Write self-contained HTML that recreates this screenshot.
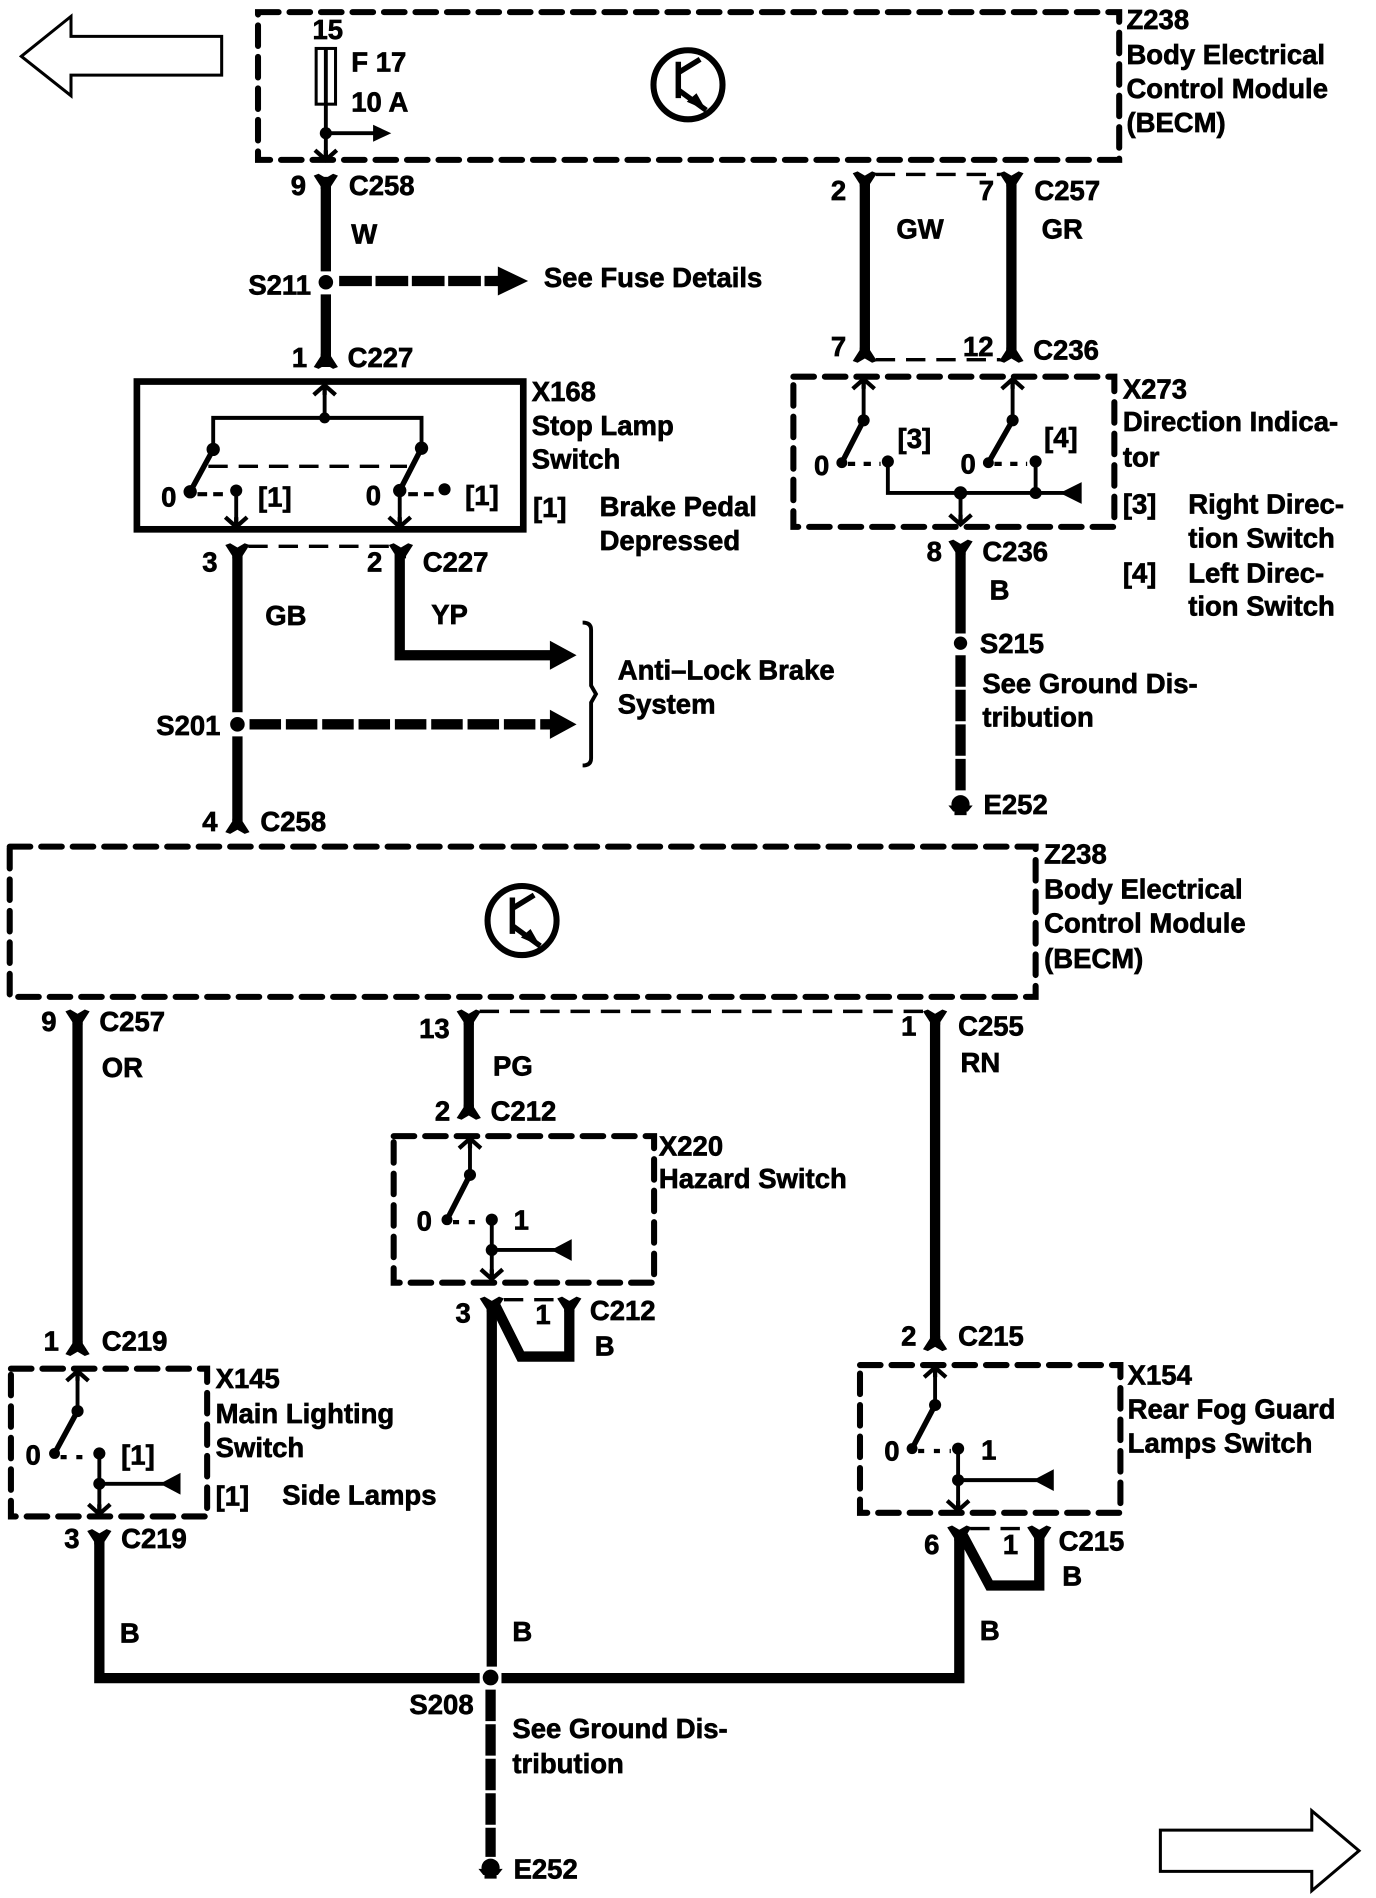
<!DOCTYPE html>
<html><head><meta charset="utf-8"><style>
html,body{margin:0;padding:0;background:#fff}
svg{display:block}
text{font-family:"Liberation Sans",sans-serif;font-weight:bold;font-size:22.7px;fill:#000;stroke:#000;stroke-width:.55}
.th{fill:none;stroke:#000;stroke-width:3.2}
.w{fill:none;stroke:#000;stroke-width:8.5}
.d{fill:none;stroke:#000;stroke-width:5;stroke-dasharray:17 9;stroke-linecap:round}
.t{fill:none;stroke:#000;stroke-width:2.8;stroke-dasharray:16 9}
</style></head><body>
<svg width="1376" height="1898" viewBox="0 0 1136 1567" xmlns="http://www.w3.org/2000/svg">
<defs>
<path id="ft" d="M-10,1L-6,-.5L0,3L6,-.5L10,1L4.2,10L4.2,12H-4.2V10Z"/>
<path id="fb" d="M-10,-1L-6,.5L0,-3L6,.5L10,-1L4.2,-10L4.2,-12H-4.2V-10Z"/>
<path id="au" d="M-9,8L0,0L9,8M0,0V8" fill="none" stroke="#000" stroke-width="3.5"/>
<path id="ad" d="M-9,-8L0,0L9,-8M0,0V-8" fill="none" stroke="#000" stroke-width="3.5"/>
<g id="tr"><circle r="28.5" fill="none" stroke="#000" stroke-width="5"/><path d="M-8,-19V11M-8,-10L10,-21M-7,5L15,21" fill="none" stroke="#000" stroke-width="4.5"/><path d="M15,21L-1,14L7,7Z"/></g>
<g id="eg"><circle cy="-1" r="7.5"/><path d="M-10,0H10L6,5H-6Z"/><rect x="-5" y="4" width="10" height="4"/></g>
</defs>

<!-- corner arrows -->
<path d="M17.6,46.5L58.6,13.5V30H183V62H58.6V79Z" fill="#fff" stroke="#000" stroke-width="2.5"/>
<path d="M1122,1528L1083,1495V1511H958V1545H1083V1561Z" fill="#fff" stroke="#000" stroke-width="2.5"/>

<!-- top module -->
<rect x="213" y="10" width="711" height="122" class="d"/>
<rect x="261" y="40" width="16" height="46" fill="#fff" stroke="#000" stroke-width="2.5"/>
<path d="M269,40V132M269,110H310" class="th"/>
<circle cx="269" cy="110" r="5"/><path d="M308,103L323,110L308,117Z"/>
<use href="#ad" x="269" y="132"/>
<use href="#tr" x="568" y="70"/>
<text x="258" y="32">15</text><text x="290" y="59">F 17</text><text x="290" y="92">10 A</text>
<text x="930" y="24">Z238</text><text x="930" y="53">Body Electrical</text><text x="930" y="81">Control Module</text><text x="930" y="109">(BECM)</text>

<!-- W wire -->
<path d="M269,146V224M269,243V303" class="w"/>
<use href="#ft" x="269" y="144"/><use href="#fb" x="269" y="304"/>
<circle cx="269" cy="233" r="6"/>
<path d="M280,232H412" fill="none" stroke="#000" stroke-width="8.5" stroke-dasharray="27 3"/>
<path d="M411,220L436,232L411,244Z"/>
<text x="240" y="161">9</text><text x="288" y="161">C258</text><text x="290" y="201">W</text>
<text x="205" y="243">S211</text><text x="449" y="237">See Fuse Details</text>
<text x="241" y="303">1</text><text x="287" y="303">C227</text>

<!-- X168 -->
<rect x="113" y="315" width="319" height="122" fill="none" stroke="#000" stroke-width="5.5"/>
<path d="M268,345V318M176,371V345H348V371" class="th"/>
<use href="#au" x="268" y="318"/>
<circle cx="268" cy="345" r="4.5"/><circle cx="176" cy="371" r="5.5"/><circle cx="348" cy="370" r="5.5"/>
<path d="M176,371L157,406M348,370L330,405" fill="none" stroke="#000" stroke-width="4.5"/>
<path d="M172,385H336" class="t"/>
<circle cx="157" cy="406" r="5.5"/><circle cx="195" cy="405" r="5"/><circle cx="330" cy="405" r="5.5"/><circle cx="367" cy="404" r="5"/>
<path d="M163,408H184M337,408H358" fill="none" stroke="#000" stroke-width="3.5" stroke-dasharray="8 5"/>
<path d="M195,405V435M330,405V435" class="th"/>
<use href="#ad" x="195" y="435"/><use href="#ad" x="330" y="435"/>
<text x="133" y="418">0</text><text x="213" y="418">[1]</text><text x="302" y="417">0</text><text x="384" y="417">[1]</text>
<text x="439" y="331">X168</text><text x="439" y="359">Stop Lamp</text><text x="439" y="387">Switch</text>
<text x="440" y="427">[1]</text><text x="495" y="426">Brake Pedal</text><text x="495" y="454">Depressed</text>

<!-- GB / YP -->
<use href="#ft" x="196" y="449"/><use href="#ft" x="331" y="449"/>
<path d="M205,451H323" class="t"/>
<path d="M196,452V588M196,608V678" class="w"/>
<path d="M330,452V541H458" class="w"/>
<path d="M454,529L476,541L454,553Z"/>
<circle cx="196" cy="598" r="6"/>
<path d="M206,598H455" fill="none" stroke="#000" stroke-width="8.5" stroke-dasharray="26 4"/>
<path d="M454,586L476,598L454,610Z"/>
<use href="#fb" x="196" y="688"/>
<path d="M481,514Q488,514 488,520V566L492,573L488,580V626Q488,632 481,632" class="th"/>
<text x="167" y="472">3</text><text x="303" y="472">2</text><text x="349" y="472">C227</text>
<text x="219" y="516">GB</text><text x="356" y="515">YP</text>
<text x="129" y="607">S201</text><text x="510" y="561">Anti–Lock Brake</text><text x="510" y="589">System</text>
<text x="167" y="686">4</text><text x="215" y="686">C258</text>

<!-- GW / GR -->
<use href="#ft" x="714" y="142"/><use href="#ft" x="835" y="142"/>
<use href="#fb" x="714" y="299"/><use href="#fb" x="835" y="299"/>
<path d="M714,145V296M835,145V296" class="w"/>
<path d="M723,144H826M723,297H826" class="t"/>
<text x="686" y="165">2</text><text x="808" y="165">7</text><text x="854" y="165">C257</text>
<text x="740" y="197">GW</text><text x="860" y="197">GR</text>
<text x="686" y="294">7</text><text x="795" y="294">12</text><text x="853" y="297">C236</text>

<!-- X273 -->
<rect x="655" y="311" width="265" height="124" class="d"/>
<path d="M713,313V347M836,313V347M733,381V407H880M793,407V433M855,381V407" class="th"/>
<use href="#au" x="713" y="313"/><use href="#au" x="836" y="313"/><use href="#ad" x="793" y="433"/>
<circle cx="713" cy="347" r="5"/><circle cx="836" cy="347" r="5"/>
<path d="M713,347L695,382M836,347L816,382" fill="none" stroke="#000" stroke-width="4.5"/>
<circle cx="695" cy="382" r="4.5"/><circle cx="816" cy="382" r="4.5"/><circle cx="733" cy="381" r="5"/><circle cx="855" cy="381" r="5"/>
<circle cx="793" cy="407" r="5.5"/><circle cx="855" cy="407" r="5"/>
<path d="M700,383H727M821,383H848" fill="none" stroke="#000" stroke-width="3.5" stroke-dasharray="6 7"/>
<path d="M875,407L893,398V416Z"/>
<text x="672" y="392">0</text><text x="793" y="391">0</text><text x="741" y="370">[3]</text><text x="862" y="369">[4]</text>
<text x="927" y="329">X273</text><text x="927" y="356">Direction Indica-</text><text x="927" y="385">tor</text>
<text x="927" y="424">[3]</text><text x="981" y="424">Right Direc-</text><text x="981" y="452">tion Switch</text>
<text x="927" y="481">[4]</text><text x="981" y="481">Left Direc-</text><text x="981" y="508">tion Switch</text>

<!-- B wire to E252 -->
<use href="#ft" x="793" y="446"/>
<path d="M793,449V523" class="w"/>
<circle cx="793" cy="531" r="5.5"/>
<path d="M793,541V655" fill="none" stroke="#000" stroke-width="8.5" stroke-dasharray="26 2.5"/>
<use href="#eg" x="793" y="665"/>
<text x="765" y="463">8</text><text x="811" y="463">C236</text><text x="817" y="495">B</text>
<text x="809" y="539">S215</text><text x="811" y="572">See Ground Dis-</text><text x="811" y="600">tribution</text>
<text x="812" y="672">E252</text>

<!-- Z238 lower -->
<rect x="8" y="699" width="847" height="124" class="d"/>
<use href="#tr" x="431" y="760"/>
<text x="862" y="713">Z238</text><text x="862" y="742">Body Electrical</text><text x="862" y="770">Control Module</text><text x="862" y="799">(BECM)</text>

<!-- lower wires -->
<use href="#ft" x="64" y="834"/><use href="#ft" x="387" y="834"/><use href="#ft" x="772" y="834"/>
<path d="M396,835H764" class="t"/>
<path d="M64,838V1112M387,838V915M772,838V1108" class="w"/>
<use href="#fb" x="64" y="1119"/><use href="#fb" x="387" y="924"/><use href="#fb" x="772" y="1115"/>
<text x="34" y="851">9</text><text x="82" y="851">C257</text><text x="84" y="889">OR</text>
<text x="36" y="1115">1</text><text x="84" y="1115">C219</text>
<text x="346" y="857">13</text><text x="407" y="888">PG</text><text x="359" y="925">2</text><text x="405" y="925">C212</text>
<text x="744" y="855">1</text><text x="791" y="855">C255</text><text x="793" y="885">RN</text>
<text x="744" y="1111">2</text><text x="791" y="1111">C215</text>

<!-- X220 -->
<rect x="325" y="938" width="215" height="121" class="d"/>
<path d="M388,940V970M406,1007V1056M406,1032H458" class="th"/>
<use href="#au" x="388" y="940"/><use href="#ad" x="406" y="1056"/>
<circle cx="388" cy="970" r="5"/><circle cx="369" cy="1007" r="4.5"/><circle cx="406" cy="1007" r="5"/><circle cx="406" cy="1032" r="5"/>
<path d="M388,970L369,1007" fill="none" stroke="#000" stroke-width="4.5"/>
<path d="M374,1009H400" fill="none" stroke="#000" stroke-width="3.5" stroke-dasharray="5 8"/>
<path d="M455,1032L472,1023V1041Z"/>
<text x="344" y="1016">0</text><text x="424" y="1015">1</text>
<text x="544" y="954">X220</text><text x="544" y="981">Hazard Switch</text>

<!-- C212 loop and trunk -->
<use href="#ft" x="406" y="1071"/><use href="#ft" x="470" y="1071"/>
<path d="M416,1073H462" class="t"/>
<path d="M406,1074V1376" class="w"/>
<path d="M408,1076L430,1120H470V1074" class="w"/>
<text x="376" y="1092">3</text><text x="442" y="1093">1</text><text x="487" y="1090">C212</text><text x="491" y="1119">B</text>

<!-- X145 -->
<rect x="9" y="1130" width="162" height="122" class="d"/>
<path d="M64,1132V1165M82,1200V1250M82,1225H135" class="th"/>
<use href="#au" x="64" y="1132"/><use href="#ad" x="82" y="1250"/>
<circle cx="64" cy="1165" r="5"/><circle cx="45" cy="1200" r="4.5"/><circle cx="82" cy="1200" r="5"/><circle cx="82" cy="1225" r="5"/>
<path d="M64,1165L45,1200" fill="none" stroke="#000" stroke-width="4.5"/>
<path d="M50,1203H76" fill="none" stroke="#000" stroke-width="3.5" stroke-dasharray="5 8"/>
<path d="M132,1225L149,1216V1234Z"/>
<text x="21" y="1209">0</text><text x="100" y="1209">[1]</text>
<text x="178" y="1146">X145</text><text x="178" y="1175">Main Lighting</text><text x="178" y="1203">Switch</text>
<text x="178" y="1243">[1]</text><text x="233" y="1242">Side Lamps</text>

<!-- X154 -->
<rect x="710" y="1127" width="215" height="122" class="d"/>
<path d="M772,1129V1160M791,1196V1247M791,1222H856" class="th"/>
<use href="#au" x="772" y="1129"/><use href="#ad" x="791" y="1247"/>
<circle cx="772" cy="1160" r="5"/><circle cx="753" cy="1196" r="4.5"/><circle cx="791" cy="1196" r="5"/><circle cx="791" cy="1222" r="5"/>
<path d="M772,1160L753,1196" fill="none" stroke="#000" stroke-width="4.5"/>
<path d="M758,1198H785" fill="none" stroke="#000" stroke-width="3.5" stroke-dasharray="5 8"/>
<path d="M853,1222L870,1213V1231Z"/>
<text x="730" y="1206">0</text><text x="810" y="1205">1</text>
<text x="931" y="1143">X154</text><text x="931" y="1171">Rear Fog Guard</text><text x="931" y="1199">Lamps Switch</text>

<!-- ground bus -->
<use href="#ft" x="82" y="1263"/><use href="#ft" x="792" y="1260"/><use href="#ft" x="858" y="1260"/>
<path d="M801,1262H850" class="t"/>
<path d="M82,1267V1385.5H396M414,1385.5H792V1263" class="w"/>
<path d="M794,1266L817,1309H858V1263" class="w"/>
<circle cx="405" cy="1385" r="6.5"/>
<path d="M405,1395V1533" fill="none" stroke="#000" stroke-width="8.5" stroke-dasharray="26 2.5"/>
<use href="#eg" x="405" y="1543"/>
<text x="53" y="1278">3</text><text x="100" y="1278">C219</text><text x="99" y="1356">B</text>
<text x="763" y="1283">6</text><text x="828" y="1283">1</text><text x="874" y="1280">C215</text><text x="877" y="1309">B</text><text x="809" y="1354">B</text>
<text x="423" y="1355">B</text><text x="338" y="1415">S208</text>
<text x="423" y="1435">See Ground Dis-</text><text x="423" y="1464">tribution</text>
<text x="424" y="1551">E252</text>
</svg>
</body></html>
